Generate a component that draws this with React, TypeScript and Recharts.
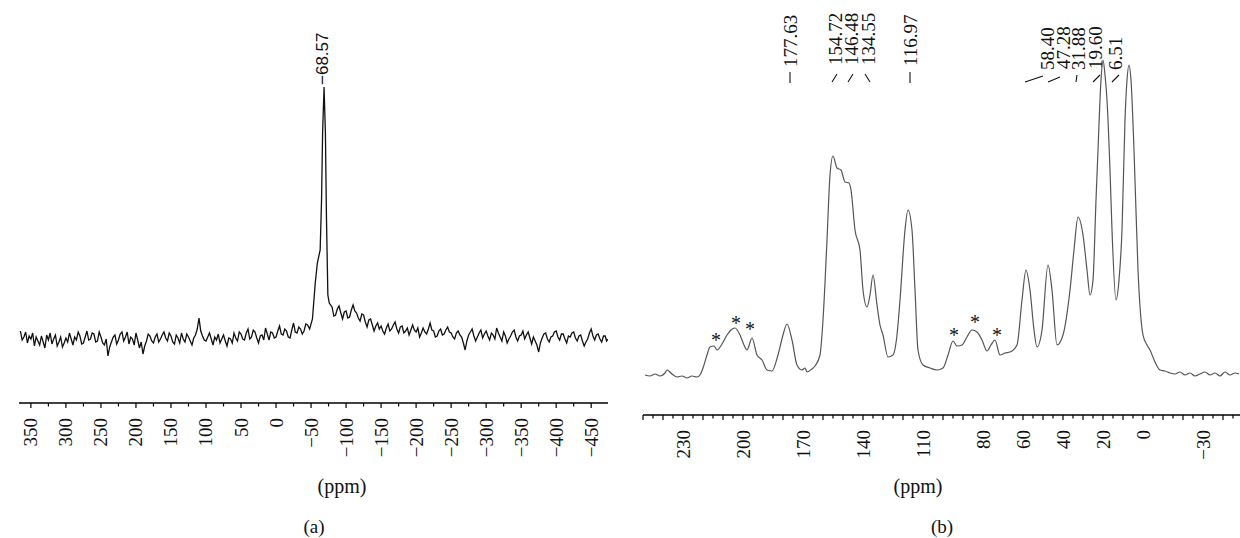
import React from 'react';
import { LineChart, Line, XAxis, YAxis } from 'recharts';

// ---------- Spectrum (a): [ppm, intensity] ----------
const aBaselineLeft: [number, number][] = [
  [365, 72], [362.5, 63], [360, 66], [357.5, 71], [355, 60], [352.5, 67], [350, 64], [347.5, 70], [345, 57], [342.5, 66],
  [340, 62], [337.5, 58], [335, 67], [332.5, 61], [330, 55], [327.5, 68], [325, 63], [322.5, 70], [320, 59], [317.5, 64],
  [315, 68], [312.5, 57], [310, 61], [307.5, 66], [305, 56], [302.5, 60], [300, 65], [297.5, 61], [295, 70], [292.5, 64],
  [290, 58], [287.5, 66], [285, 63], [282.5, 71], [280, 67], [277.5, 59], [275, 60], [272.5, 66], [270, 72], [267.5, 63],
  [265, 64], [262.5, 70], [260, 69], [257.5, 61], [255, 62], [252.5, 71], [250, 66], [247.5, 60], [245, 58], [242.5, 64],
  [240, 47], [237.5, 56], [235, 61], [232.5, 66], [230, 68], [227.5, 59], [225, 63], [222.5, 69], [220, 71], [217.5, 62],
  [215, 66], [212.5, 71], [210, 59], [207.5, 66], [205, 64], [202.5, 58], [200, 70], [197.5, 63], [195, 55], [192.5, 61],
  [190, 49], [187.5, 57], [185, 62], [182.5, 69], [180, 67], [177.5, 62], [175, 60], [172.5, 66], [170, 69], [167.5, 61],
  [165, 64], [162.5, 68], [160, 71], [157.5, 65], [155, 62], [152.5, 70], [150, 67], [147.5, 61], [145, 59], [142.5, 68],
  [140, 65], [137.5, 60], [135, 70], [132.5, 64], [130, 61], [127.5, 69], [125, 66], [122.5, 62], [120, 58], [117.5, 65],
  [115, 68], [112.5, 74], [110, 85], [107.5, 72], [105, 67], [102.5, 63], [100, 62], [97.5, 66], [95, 70], [92.5, 64],
  [90, 58], [87.5, 66], [85, 63], [82.5, 69], [80, 60], [77.5, 64], [75, 68], [72.5, 62], [70, 57], [67.5, 65],
  [65, 64], [62.5, 60], [60, 70], [57.5, 65], [55, 62], [52.5, 71], [50, 69], [47.5, 64], [45, 63], [42.5, 70],
  [40, 74], [37.5, 64], [35, 66], [32.5, 73], [30, 71], [27.5, 65], [25, 60], [22.5, 67], [20, 68], [17.5, 63],
  [15, 75], [12.5, 69], [10, 63], [7.5, 71], [5, 70], [2.5, 65], [0, 66], [-2.5, 72], [-5, 77], [-7.5, 69],
  [-10, 68], [-12.5, 74], [-15, 72], [-17.5, 66], [-20, 65], [-22.5, 73], [-25, 80], [-27.5, 71], [-30, 70], [-32.5, 76],
  [-35, 74], [-37.5, 69], [-40, 72], [-42.5, 79], [-45, 78], [-48, 74],
];
const aPeak: [number, number][] = [
  [-52, 84], [-56, 120], [-59, 140], [-63, 153], [-65, 203], [-66.5, 270], [-68.57, 316],
  [-70.5, 270], [-72, 186], [-74, 108], [-76, 100],
];
const aBaselineRight: [number, number][] = [
  [-80, 96], [-82.5, 87], [-85, 88], [-87.5, 94], [-90, 97], [-92.5, 90], [-95, 84], [-97.5, 91], [-100, 92], [-102.5, 85],
  [-105, 86], [-107.5, 93], [-110, 98], [-112.5, 92], [-115, 90], [-117.5, 85], [-120, 82], [-122.5, 89], [-125, 88], [-127.5, 81],
  [-130, 76], [-132.5, 83], [-135, 84], [-137.5, 78], [-140, 72], [-142.5, 77], [-145, 80], [-147.5, 74], [-150, 77], [-152.5, 72],
  [-155, 69], [-157.5, 75], [-160, 79], [-162.5, 72], [-165, 74], [-167.5, 78], [-170, 81], [-172.5, 74], [-175, 70], [-177.5, 76],
  [-180, 77], [-182.5, 70], [-185, 72], [-187.5, 75], [-190, 68], [-192.5, 73], [-195, 78], [-197.5, 73], [-200, 71], [-202.5, 75],
  [-205, 66], [-207.5, 70], [-210, 75], [-212.5, 71], [-215, 69], [-217.5, 74], [-220, 80], [-222.5, 73], [-225, 72], [-227.5, 66],
  [-230, 67], [-232.5, 72], [-235, 74], [-237.5, 68], [-240, 69], [-242.5, 73], [-245, 76], [-247.5, 71], [-250, 70], [-252.5, 66],
  [-255, 64], [-257.5, 70], [-260, 72], [-262.5, 68], [-265, 66], [-267.5, 60], [-270, 53], [-272.5, 62], [-275, 68], [-277.5, 71],
  [-280, 74], [-282.5, 67], [-285, 62], [-287.5, 66], [-290, 70], [-292.5, 73], [-295, 65], [-297.5, 69], [-300, 72], [-302.5, 67],
  [-305, 63], [-307.5, 70], [-310, 68], [-312.5, 64], [-315, 75], [-317.5, 70], [-320, 66], [-322.5, 62], [-325, 71], [-327.5, 67],
  [-330, 60], [-332.5, 64], [-335, 67], [-337.5, 71], [-340, 73], [-342.5, 66], [-345, 62], [-347.5, 67], [-350, 68], [-352.5, 72],
  [-355, 64], [-357.5, 68], [-360, 71], [-362.5, 65], [-365, 59], [-367.5, 66], [-370, 62], [-372.5, 58], [-375, 51], [-377.5, 60],
  [-380, 65], [-382.5, 69], [-385, 70], [-387.5, 64], [-390, 61], [-392.5, 66], [-395, 67], [-397.5, 71], [-400, 72], [-402.5, 66],
  [-405, 63], [-407.5, 69], [-410, 69], [-412.5, 64], [-415, 60], [-417.5, 67], [-420, 66], [-422.5, 70], [-425, 71], [-427.5, 65],
  [-430, 62], [-432.5, 67], [-435, 68], [-437.5, 62], [-440, 57], [-442.5, 61], [-445, 64], [-447.5, 70], [-450, 74], [-452.5, 67],
  [-455, 63], [-457.5, 68], [-460, 69], [-462.5, 64], [-465, 61], [-467.5, 67], [-470, 67], [-472, 62], [-474, 64],
];

// ---------- Spectrum (b): [ppm, intensity] ----------
const bSpectrum: [number, number][] = [
  [249, 40], [246.5, 39], [244, 41], [241.5, 39], [239, 42], [238, 45], [235.5, 41], [233, 38], [230.5, 39], [228, 37],
  [225.5, 39], [223, 38], [221.5, 40], [220, 47], [218, 60], [216.5, 68], [214.5, 69], [213, 65], [210.5, 71], [208, 80],
  [206, 85], [204, 87], [201.5, 80], [199.5, 70], [198, 65], [195.5, 77], [193, 60], [190.5, 55], [188, 45], [185.5, 44],
  [182.5, 60], [180, 80], [178, 91], [175.5, 75], [173, 50], [170.5, 45], [169, 47], [168, 43], [165.5, 46], [164, 49],
  [161.5, 60], [160, 95], [158, 175], [156.5, 240], [155, 259], [153, 247], [151, 245], [149, 233], [147, 232], [146, 225],
  [144, 185], [141.5, 165], [140, 125], [138, 108], [136.5, 120], [135, 140], [133, 110], [131.5, 90], [130, 80], [127.5, 58],
  [125, 60], [123, 80], [121.5, 115], [119, 185], [117.5, 205], [115.5, 185], [114, 125], [112.5, 65], [110, 50], [106.5, 47],
  [103, 45], [100, 47], [97.5, 60], [95, 74], [93, 69], [90.5, 70], [88, 78], [85.5, 85], [83, 83], [80.5, 75],
  [78, 64], [76, 70], [74, 75], [71.5, 60], [69, 62], [66.5, 63], [63, 70], [60.5, 115], [58.5, 145], [56.5, 125],
  [54.5, 85], [53, 68], [50.5, 85], [47.5, 150], [45.5, 125], [43, 70], [40, 80], [36.5, 125], [34.5, 165], [32.5, 198],
  [30, 180], [28, 145], [26.5, 120], [25, 135], [23.5, 215], [22.5, 265], [21, 335], [20, 355], [19, 340], [18, 315],
  [16.5, 245], [15.5, 185], [13.5, 115], [12, 135], [10.5, 185], [9, 295], [8, 335], [7, 350], [6, 335], [4.5, 265],
  [2.5, 145], [0, 80], [-2, 70], [-3.5, 65], [-6, 53], [-8.5, 45], [-11, 44], [-13.5, 42], [-16, 41], [-18.5, 43],
  [-21, 40], [-23.5, 42], [-26, 39], [-28.5, 41], [-31, 43], [-33.5, 40], [-36, 42], [-38.5, 39], [-41, 43], [-43.5, 40],
  [-46, 42], [-48, 41],
];

// ---------- Axis ticks ----------
const aTicks = [350, 325, 300, 275, 250, 225, 200, 175, 150, 125, 100, 75, 50, 25, 0, -25, -50, -75, -100, -125,
  -150, -175, -200, -225, -250, -275, -300, -325, -350, -375, -400, -425, -450];
const aTickLabels = [350, 300, 250, 200, 150, 100, 50, 0, -50, -100, -150, -200, -250, -300, -350, -400, -450];

const bTicks = [250, 245, 240, 235, 230, 225, 220, 215, 210, 205, 200, 195, 190, 185, 180, 175, 170, 165, 160, 155,
  150, 145, 140, 135, 130, 125, 120, 115, 110, 105, 100, 95, 90, 85, 80, 75, 70, 65, 60, 55, 50, 45, 40, 35, 30,
  25, 20, 15, 10, 5, 0, -5, -10, -15, -20, -25, -30, -35, -40, -45];
const bTickLabels = [230, 200, 170, 140, 110, 80, 60, 40, 20, 0, -30];

// ---------- Peak annotations ----------
const aPeakLabels = [{ text: '−68.57', cx: 322, bottom: 85 }];
const bPeakLabels = [
  { text: '177.63', cx: 790, bottom: 67 },
  { text: '154.72', cx: 835, bottom: 65 },
  { text: '146.48', cx: 851, bottom: 65 },
  { text: '134.55', cx: 868, bottom: 65 },
  { text: '116.97', cx: 910, bottom: 66 },
  { text: '58.40', cx: 1047, bottom: 70 },
  { text: '47.28', cx: 1063, bottom: 69 },
  { text: '31.88', cx: 1078, bottom: 70 },
  { text: '19.60', cx: 1095, bottom: 69 },
  { text: '6.51', cx: 1115, bottom: 70 },
];
const bLeaders = [
  [790, 72, 790, 83], [832, 82, 837, 74], [848, 82, 853, 74], [865, 74, 870, 82], [910, 72, 910, 83],
  [1025, 82, 1043, 76], [1048, 82, 1060, 77], [1077, 75, 1076, 82], [1093, 82, 1100, 75], [1112, 82, 1119, 75],
];
const bAsterisks = [[716, 337], [736, 320], [750, 326], [954, 332], [975, 319], [997, 332]];

const SERIF = '"Liberation Serif", "Times New Roman", serif';
const SANS = '"Liberation Sans", Arial, sans-serif';

const toRows = (pairs: [number, number][]) => pairs.map(([ppm, h]) => ({ ppm, h }));
const aData = toRows([...aBaselineLeft, ...aPeak, ...aBaselineRight]);
const bData = toRows(bSpectrum);

const fmt = (v: number) => (v < 0 ? '−' + Math.abs(v) : String(v));

const makeTick = (labels: number[], isMajor: (v: number) => boolean) => (props: any) => {
  const { x, y, payload } = props;
  const v = payload.value as number;
  const len = isMajor(v) ? 5 : 3.5;
  return (
    <g>
      <line x1={x} y1={y} x2={x} y2={y + len} stroke="#000" strokeWidth={1.2} />
      {labels.includes(v) && (
        <text
          transform={`translate(${x + 6.5},${y + 15}) rotate(-90)`}
          textAnchor="end"
          fontSize={19}
          fontFamily={SERIF}
          fill="#111"
        >
          {fmt(v)}
        </text>
      )}
    </g>
  );
};

const tickA = makeTick(aTickLabels, (v) => v % 50 === 0);
const tickB = makeTick(bTickLabels, (v) => v % 10 === 0);

export default function App() {
  return (
    <div style={{ position: 'absolute', left: 0, top: 0, width: 1240, height: 538, background: '#fff', overflow: 'hidden' }}>
      <div style={{ position: 'absolute', left: 0, top: 0 }}>
        <LineChart width={620} height={538} data={aData} margin={{ top: 0, right: 12, bottom: 0, left: 19 }}>
          <XAxis
            dataKey="ppm"
            type="number"
            domain={[-474, 367]}
            reversed
            allowDataOverflow
            ticks={aTicks}
            interval={0}
            tick={tickA}
            tickLine={false}
            tickSize={0}
            tickMargin={0}
            height={135}
            axisLine={{ stroke: '#000', strokeWidth: 1.3 }}
          />
          <YAxis hide type="number" domain={[0, 403]} allowDataOverflow />
          <Line
            dataKey="h"
            type="linear"
            dot={false}
            stroke="#111"
            strokeWidth={1.3}
            isAnimationActive={false}
          />
        </LineChart>
      </div>
      <div style={{ position: 'absolute', left: 620, top: 0 }}>
        <LineChart width={620} height={538} data={bData} margin={{ top: 0, right: 0, bottom: 0, left: 23 }}>
          <XAxis
            dataKey="ppm"
            type="number"
            domain={[-48.5, 250]}
            reversed
            allowDataOverflow
            ticks={bTicks}
            interval={0}
            tick={tickB}
            tickLine={false}
            tickSize={0}
            tickMargin={0}
            height={123}
            axisLine={{ stroke: '#000', strokeWidth: 1.3 }}
          />
          <YAxis hide type="number" domain={[0, 415]} allowDataOverflow />
          <Line
            dataKey="h"
            type="monotone"
            dot={false}
            stroke="#555"
            strokeWidth={1.2}
            isAnimationActive={false}
          />
        </LineChart>
      </div>
      <svg
        width={1240}
        height={538}
        style={{ position: 'absolute', left: 0, top: 0, pointerEvents: 'none' }}
      >
        {aPeakLabels.map((l) => (
          <text
            key={l.text}
            transform={`translate(${l.cx + 6},${l.bottom}) rotate(-90)`}
            textAnchor="start"
            fontSize={17}
            fontFamily={SANS}
            fill="#111"
          >
            {l.text}
          </text>
        ))}
        {bPeakLabels.map((l) => (
          <text
            key={l.text}
            transform={`translate(${l.cx + 6.5},${l.bottom}) rotate(-90)`}
            textAnchor="start"
            fontSize={19}
            fontFamily={SERIF}
            fill="#111"
          >
            {l.text}
          </text>
        ))}
        {bLeaders.map(([x1, y1, x2, y2], i) => (
          <line key={i} x1={x1} y1={y1} x2={x2} y2={y2} stroke="#111" strokeWidth={1.1} />
        ))}
        {bAsterisks.map(([cx, cy], i) => (
          <text key={i} x={cx} y={cy + 10} textAnchor="middle" fontSize={20} fontFamily={SERIF} fill="#111">
            *
          </text>
        ))}
        <text x={342} y={493} textAnchor="middle" fontSize={20} fontFamily={SERIF} fill="#111">(ppm)</text>
        <text x={314} y={533} textAnchor="middle" fontSize={19} fontFamily={SERIF} fill="#111">(a)</text>
        <text x={918} y={493} textAnchor="middle" fontSize={20} fontFamily={SERIF} fill="#111">(ppm)</text>
        <text x={942} y={533} textAnchor="middle" fontSize={19} fontFamily={SERIF} fill="#111">(b)</text>
      </svg>
    </div>
  );
}
